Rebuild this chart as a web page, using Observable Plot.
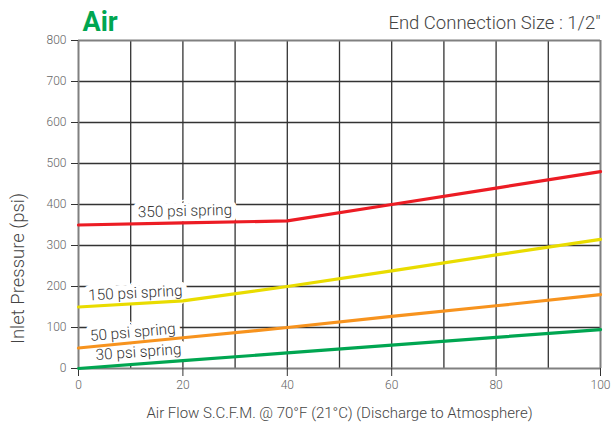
<!DOCTYPE html>
<html>
<head>
<meta charset="utf-8">
<script src="https://cdn.jsdelivr.net/npm/d3@7"></script>
<script src="https://cdn.jsdelivr.net/npm/@observablehq/plot@0.6"></script>
<style>
  html, body { margin: 0; padding: 0; background: #fff; }
</style>
</head>
<body>
<div id="chart"></div>
<script>
const title = "Air";
const subtitle = "End Connection Size : 1/2\"";
const xLabel = "Air Flow S.C.F.M. @ 70°F (21°C) (Discharge to Atmosphere)";
const yLabel = "Inlet Pressure (psi)";

const xTicks = [0, 20, 40, 60, 80, 100];
const yTicks = [0, 100, 200, 300, 400, 500, 600, 700, 800];
const xGrid = [10, 20, 30, 40, 50, 60, 70, 80, 90];
const yGrid = [100, 200, 300, 400, 500, 600, 700];
const xEdge = [0, 100];
const yEdge = [0, 800];

const spring350 = [[0, 350], [20, 355], [40, 360], [60, 400], [80, 440], [100, 480]];
const spring150 = [[0, 150], [20, 165], [40, 200], [60, 238], [80, 277], [100, 315]];
const spring50  = [[0, 50], [20, 75], [40, 100], [60, 127], [80, 153], [100, 180]];
const spring30  = [[0, 0], [20, 19], [40, 38], [60, 57], [80, 76], [100, 95]];

const seriesNames = ["350 psi spring", "150 psi spring", "50 psi spring", "30 psi spring"];
const seriesColors = ["#ec1c24", "#e9dc00", "#f7931e", "#00a651"];
const seriesData = [spring350, spring150, spring50, spring30];
// label anchor positions (data units) and rotation along the curve
const labelX = [20.4, 10.9, 10.4, 11.5];
const labelY = [384, 184, 88, 40];
const labelRotate = [-1.5, -3, -5, -4];

const rows = seriesData.flatMap((s, i) => s.map(([x, y]) => ({series: seriesNames[i], x, y})));
const labels = seriesNames.map((name, i) => ({name, x: labelX[i], y: labelY[i], r: labelRotate[i]}));

const font = "Roboto, 'Liberation Sans', sans-serif";

const chart = Plot.plot({
  width: 612,
  height: 423,
  marginLeft: 78,
  marginRight: 12,
  marginTop: 40,
  marginBottom: 55,
  style: {fontFamily: font, background: "#fff"},
  x: {domain: [0, 100]},
  y: {domain: [0, 800]},
  color: {domain: seriesNames, range: seriesColors},
  marks: [
    Plot.ruleX(xGrid, {stroke: "#333", strokeWidth: 1.3}),
    Plot.ruleY(yGrid, {stroke: "#333", strokeWidth: 1.3}),
    Plot.ruleX(xEdge, {stroke: "#808080", strokeWidth: 2}),
    Plot.ruleY(yEdge, {stroke: "#808080", strokeWidth: 2}),
    Plot.axisY({ticks: yTicks, tickSize: 7, tickPadding: 5, fontSize: 12, fontWeight: 300, color: "#666", stroke: "#333", label: null}),
    Plot.axisX({ticks: xTicks, tickSize: 8, tickPadding: 4, fontSize: 12, fontWeight: 300, color: "#666", stroke: "#333", label: null}),
    Plot.text(labels, {x: "x", y: "y", text: "name", rotate: "r", fontSize: 15.3, fontWeight: 300, fill: "white", stroke: "white", strokeWidth: 11, strokeLinejoin: "round", textAnchor: "middle"}),
    Plot.line(rows, {x: "x", y: "y", z: "series", stroke: "series", strokeWidth: 3.2}),
    Plot.text(labels, {x: "x", y: "y", text: "name", rotate: "r", fontSize: 15.3, fontWeight: 300, fill: "#333", textAnchor: "middle"}),
    Plot.text([title], {frameAnchor: "top-left", textAnchor: "start", lineAnchor: "middle", dx: 4, dy: -18, fontSize: 27, fontWeight: "bold", fill: "#00a651"}),
    Plot.text([subtitle], {frameAnchor: "top-right", textAnchor: "end", lineAnchor: "middle", dy: -17, fontSize: 18.5, fontWeight: 300, fill: "#444"}),
    Plot.text([xLabel], {frameAnchor: "bottom", textAnchor: "middle", lineAnchor: "middle", dy: 45, fontSize: 15, fontWeight: 300, fill: "#444"}),
    Plot.text([yLabel], {frameAnchor: "left", textAnchor: "middle", lineAnchor: "middle", dx: -60, dy: 64, rotate: -90, fontSize: 18.5, fontWeight: 300, fill: "#444"})
  ]
});
document.getElementById("chart").appendChild(chart);
</script>
</body>
</html>
